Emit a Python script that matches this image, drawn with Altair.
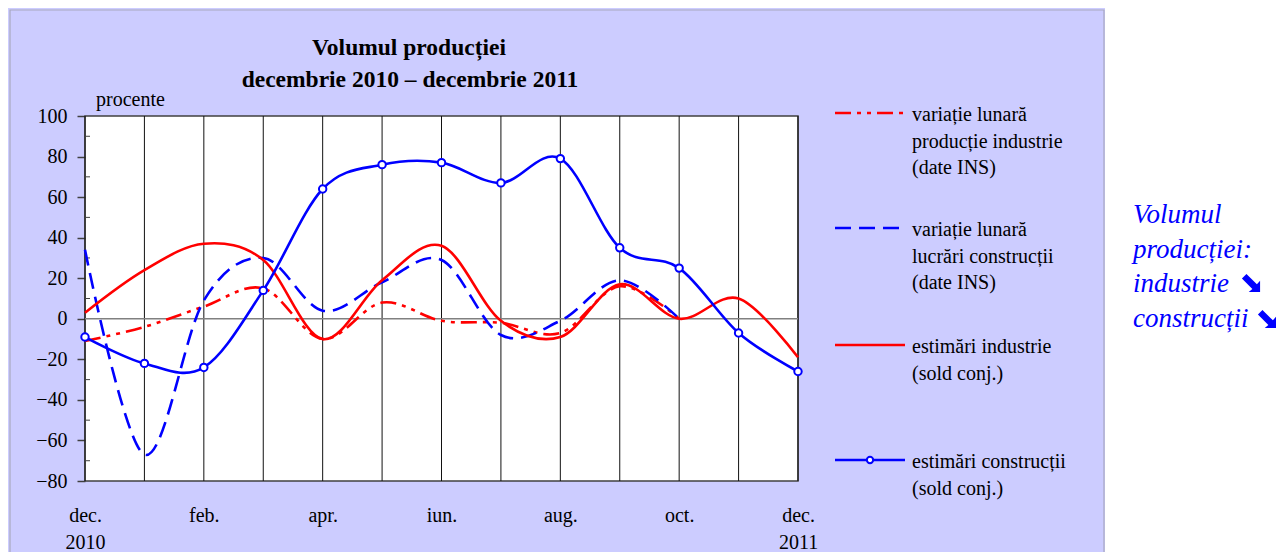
import json
import altair as alt
import pandas as pd

# ---------------- data ----------------
month_labels = ["dec. 2010", "ian.", "feb.", "mar.", "apr.", "mai", "iun.",
                "iul.", "aug.", "sep.", "oct.", "nov.", "dec. 2011"]
month_idx = list(range(13))
x_label_ticks = [0, 2, 4, 6, 8, 10, 12]

ind_ins = [-11, -4, 6, 15, -10, 8, -1, -2, -7, 16, 0, None, None]
constr_ins = [34, -67, 9, 30, 4, 18, 29, -8, -1, 19, 0, None, None]
ind_est = [3, 24, 37, 29, -10, 19, 36, -1, -9, 17, 0, 10, -19]
constr_est = [-9, -22, -24, 14, 64, 76, 77, 67, 79, 35, 25, -7, -26]

y_ticks = [-80, -60, -40, -20, 0, 20, 40, 60, 80, 100]
y_minor = [-70, -50, -30, -10, 10, 30, 50, 70, 90]

title_lines = ["Volumul producției", "decembrie 2010 – decembrie 2011"]
y_unit = "procente"
legend_texts = [
    ["variație lunară", "producție industrie", "(date INS)"],
    ["variație lunară", "lucrări construcții", "(date INS)"],
    ["estimări industrie", "(sold conj.)"],
    ["estimări construcții", "(sold conj.)"],
]
side_lines = ["Volumul", "producției:", "industrie", "construcții"]

series_names = ["ind_ins", "constr_ins", "ind_est", "constr_est"]
rows = []
for name, vals in zip(series_names, [ind_ins, constr_ins, ind_est, constr_est]):
    for i, v in zip(month_idx, vals):
        if v is not None:
            rows.append({"i": i, "s": name, "v": v})
df = pd.DataFrame(rows)
months_df = pd.DataFrame({"i": month_idx})
minor_df = pd.DataFrame({"t": y_minor})
one = pd.DataFrame({"k": [0]})

# ---------------- style ----------------
W, H = 713, 365
FONT = "Liberation Serif"
RED = "#FF0000"
BLUE = "#0000FF"
LAV = "#CCCCFF"
# heavy south-east arrow glyph, as a symbol path
ARROW_PATH = ("M -1 -0.5 L 0.15 0.65 L -0.25 1 L 1 1 L 1 -0.25 "
              "L 0.65 0.15 L -0.5 -1 Z")

x_scale = alt.Scale(domain=[0, 12], nice=False, zero=False)
y_scale = alt.Scale(domain=[-80, 100], nice=False, zero=False)

x_axis = alt.Axis(
    values=x_label_ticks,
    labelExpr="split(" + json.dumps(month_labels) + "[datum.value], ' ')",
    title=None, grid=False, ticks=False, domain=False, labelAngle=0,
    labelFont=FONT, labelFontSize=20, labelColor="black", labelPadding=24,
    labelLineHeight=27, labelFlush=False, labelOverlap=False,
)
y_axis = alt.Axis(
    values=y_ticks, title=None, grid=False, domain=False, ticks=True,
    tickSize=8, tickColor="#404040", tickWidth=1.5,
    labelFont=FONT, labelFontSize=20, labelColor="black", labelPadding=10,
    labelOverlap=False, labelFlush=False,
)
X = alt.X("i:Q", scale=x_scale, axis=x_axis)
Y = alt.Y("v:Q", scale=y_scale, axis=y_axis)


def text(t, x, y, size=20, align="left", weight="normal", style="normal",
         color="black", font=FONT, baseline="middle"):
    return alt.Chart(one).mark_text(
        text=t, font=font, fontSize=size, align=align, baseline=baseline,
        fontWeight=weight, fontStyle=style, color=color,
    ).encode(x=alt.value(x), y=alt.value(y))


layers = []

# white area right of the panel and the panel border
layers.append(alt.Chart(one).mark_rect(color="white").encode(
    x=alt.value(1020), x2=alt.value(1300), y=alt.value(-130), y2=alt.value(470)))
layers.append(alt.Chart(one).mark_rect(fillOpacity=0, stroke="#A8A8C0", strokeWidth=1.2).encode(
    x=alt.value(-75), x2=alt.value(1019), y=alt.value(-106), y2=alt.value(470)))

# gridlines
layers.append(alt.Chart(months_df).mark_rule(color="#111111", strokeWidth=1).encode(x=X))
# zero line
layers.append(alt.Chart(one).mark_rule(color="#808080", strokeWidth=1.5).encode(
    y=alt.Y(datum=0, scale=y_scale, axis=y_axis)))
# minor ticks
layers.append(alt.Chart(minor_df).mark_rule(color="#404040", strokeWidth=1).encode(
    y=alt.Y("t:Q", scale=y_scale, axis=y_axis), x=alt.value(0), x2=alt.value(5)))

DASHDOT = [16, 6, 4, 6, 4, 6]
DASH = [16, 8]


def line(name, color, dash=None):
    kw = dict(color=color, strokeWidth=2.6, interpolate="cardinal")
    if dash:
        kw["strokeDash"] = dash
    return alt.Chart(df).transform_filter(alt.datum.s == name).mark_line(**kw).encode(x=X, y=Y)


layers.append(line("ind_ins", RED, DASHDOT))
layers.append(line("constr_ins", BLUE, DASH))
layers.append(line("ind_est", RED))
layers.append(line("constr_est", BLUE))
layers.append(alt.Chart(df).transform_filter(alt.datum.s == "constr_est").mark_point(
    shape="circle", filled=True, fill="white", stroke=BLUE, strokeWidth=2,
    size=55, opacity=1).encode(x=X, y=Y))

# title and unit
layers.append(text(title_lines[0], 324, -68, size=23.5, align="center", weight="bold"))
layers.append(text(title_lines[1], 325, -36, size=23.5, align="center", weight="bold"))
layers.append(text(y_unit, 11, -16, size=20))

# legend
LX1, LX2, LT = 750, 820, 827
sym_y = [-3, 112, 229, 344]
text_y0 = [-1, 114, 231, 346]
sym_style = [(RED, DASHDOT), (BLUE, DASH), (RED, None), (BLUE, None)]
for k in range(4):
    c, d = sym_style[k]
    kw = dict(color=c, strokeWidth=2.5)
    if d:
        kw["strokeDash"] = d
    layers.append(alt.Chart(one).mark_rule(**kw).encode(
        x=alt.value(LX1), x2=alt.value(LX2), y=alt.value(sym_y[k])))
    for j, t in enumerate(legend_texts[k]):
        layers.append(text(t, LT, text_y0[k] + 26.5 * j, size=20))
layers.append(alt.Chart(one).mark_point(
    shape="circle", filled=True, fill="white", stroke=BLUE, strokeWidth=2,
    size=40, opacity=1).encode(x=alt.value(785), y=alt.value(sym_y[3])))

# side note
side_y = [107, 142, 176, 211]
for t, yy in zip(side_lines, side_y):
    layers.append(text(t, 1048, yy, size=27, style="italic", color=BLUE,
                       baseline="alphabetic"))
for ax, ay in [(1166, 167), (1182, 203)]:
    layers.append(alt.Chart(one).mark_point(
        shape=ARROW_PATH, filled=True, color=BLUE, size=330, opacity=1,
        strokeWidth=0).encode(x=alt.value(ax), y=alt.value(ay)))

chart = alt.layer(*layers).properties(
    width=W, height=H,
    padding={"left": 77, "top": 108, "right": 478, "bottom": 71},
    autosize=alt.AutoSizeParams(type="none"),
    background=LAV,
).configure_view(stroke="#404040", strokeWidth=1.5, fill="white")

chart.save("out.html", embed_options={"renderer": "svg", "actions": False})
